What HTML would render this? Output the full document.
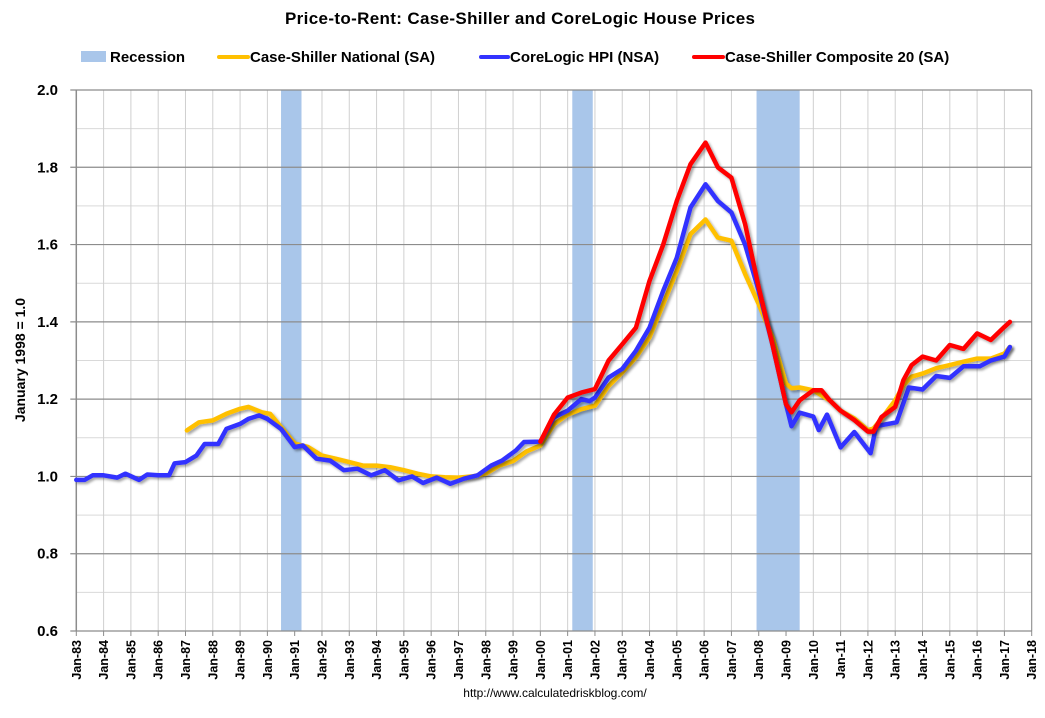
<!DOCTYPE html>
<html><head><meta charset="utf-8"><style>
body{margin:0;background:#fff;}
svg text{font-family:"Liberation Sans",Arial,sans-serif;}
</style></head><body>
<svg id="chart" width="1045" height="713" xmlns="http://www.w3.org/2000/svg">
<defs><filter id="sh" x="-5%" y="-5%" width="110%" height="110%"><feDropShadow dx="2" dy="2" stdDeviation="1.2" flood-color="#000" flood-opacity="0.35"/></filter></defs>
<rect width="1045" height="713" fill="#fff"/>
<text x="520" y="24" text-anchor="middle" font-size="17" font-weight="bold" textLength="470">Price-to-Rent: Case-Shiller and CoreLogic House Prices</text>
<g>
<rect x="81" y="51" width="25" height="11" fill="#a9c6ea"/>
<text x="110" y="62" font-size="15" font-weight="bold">Recession</text>
<line x1="219" y1="57" x2="248" y2="57" stroke="#ffc000" stroke-width="4" stroke-linecap="round"/>
<text x="250" y="62" font-size="15" font-weight="bold">Case-Shiller National (SA)</text>
<line x1="481" y1="57" x2="508" y2="57" stroke="#3333ff" stroke-width="4" stroke-linecap="round"/>
<text x="510" y="62" font-size="15" font-weight="bold">CoreLogic HPI (NSA)</text>
<line x1="694" y1="57" x2="723" y2="57" stroke="#ff0000" stroke-width="4" stroke-linecap="round"/>
<text x="725" y="62" font-size="15" font-weight="bold">Case-Shiller Composite 20 (SA)</text>
</g>
<text transform="translate(25,360) rotate(-90)" text-anchor="middle" font-size="14" font-weight="bold">January 1998 = 1.0</text>
<text x="555" y="697" text-anchor="middle" font-size="12">http://www.calculatedriskblog.com/</text>
<g id="plot"></g>
</svg>
<script>
const recessionStarts=[1990.5,2001.17,2007.92];
const recessionEnds=[1991.25,2001.92,2009.5];
const yTicks=[0.6,0.8,1.0,1.2,1.4,1.6,1.8,2.0];
const yTickLabels=["0.6","0.8","1.0","1.2","1.4","1.6","1.8","2.0"];
const xYears=[1983,1984,1985,1986,1987,1988,1989,1990,1991,1992,1993,1994,1995,1996,1997,1998,1999,2000,2001,2002,2003,2004,2005,2006,2007,2008,2009,2010,2011,2012,2013,2014,2015,2016,2017,2018];
const nationalDates=[1987.05,1987.5,1988,1988.5,1989,1989.3,1989.8,1990.1,1990.5,1991,1991.5,1992,1992.5,1993,1993.5,1994,1994.5,1995,1995.5,1996,1996.5,1997,1997.5,1998,1998.5,1999,1999.5,2000,2000.5,2001,2001.5,2002,2002.5,2003,2003.5,2004,2004.5,2005,2005.5,2006.05,2006.5,2007,2007.5,2008,2008.5,2009,2009.2,2009.5,2010,2010.3,2010.6,2011,2011.5,2012,2012.2,2012.5,2013,2013.3,2013.6,2014,2014.5,2015,2015.5,2016,2016.5,2017,2017.2];
const nationalValues=[1.119,1.14,1.145,1.162,1.175,1.18,1.166,1.162,1.128,1.085,1.076,1.054,1.046,1.037,1.028,1.028,1.024,1.016,1.007,1.0,0.998,0.997,1.0,1.007,1.028,1.04,1.065,1.08,1.135,1.16,1.174,1.183,1.234,1.269,1.308,1.36,1.446,1.532,1.627,1.665,1.618,1.61,1.524,1.446,1.36,1.24,1.228,1.23,1.223,1.21,1.197,1.17,1.15,1.12,1.124,1.15,1.197,1.236,1.258,1.266,1.28,1.288,1.297,1.305,1.305,1.318,1.335];
const coreDates=[1983,1983.3,1983.6,1984,1984.5,1984.8,1985.3,1985.6,1986,1986.4,1986.6,1987,1987.4,1987.7,1988.2,1988.5,1989,1989.3,1989.7,1990,1990.5,1991,1991.3,1991.8,1992.3,1992.8,1993.3,1993.8,1994.3,1994.8,1995.3,1995.7,1996.2,1996.7,1997.2,1997.7,1998.2,1998.6,1999.1,1999.4,2000,2000.5,2001,2001.5,2001.8,2002,2002.5,2003,2003.5,2004,2004.5,2005,2005.5,2006.05,2006.5,2007,2007.5,2008,2008.5,2009,2009.2,2009.5,2010,2010.2,2010.5,2011,2011.5,2012.1,2012.3,2013.05,2013.5,2014,2014.5,2015,2015.5,2016.1,2016.5,2017,2017.2];
const coreValues=[0.991,0.991,1.003,1.003,0.997,1.007,0.991,1.005,1.003,1.003,1.034,1.037,1.054,1.084,1.084,1.123,1.136,1.149,1.158,1.149,1.123,1.076,1.08,1.046,1.041,1.016,1.02,1.003,1.016,0.99,1.0,0.983,0.997,0.981,0.994,1.003,1.028,1.041,1.067,1.089,1.09,1.153,1.17,1.2,1.195,1.204,1.256,1.278,1.325,1.385,1.48,1.566,1.696,1.756,1.713,1.683,1.6,1.48,1.342,1.187,1.13,1.165,1.155,1.12,1.16,1.075,1.115,1.06,1.13,1.14,1.23,1.225,1.26,1.255,1.285,1.285,1.3,1.31,1.335];
const compDates=[2000,2000.5,2001,2001.5,2002,2002.5,2003,2003.5,2004,2004.5,2005,2005.5,2006.05,2006.5,2007,2007.5,2008,2008.5,2009,2009.2,2009.5,2010,2010.3,2010.6,2011,2011.5,2012,2012.2,2012.5,2013,2013.3,2013.6,2014,2014.5,2015,2015.5,2016,2016.5,2017,2017.2];
const compValues=[1.09,1.16,1.204,1.217,1.226,1.3,1.342,1.385,1.506,1.6,1.713,1.808,1.864,1.8,1.773,1.653,1.489,1.342,1.187,1.166,1.197,1.223,1.223,1.197,1.17,1.146,1.116,1.116,1.154,1.18,1.249,1.288,1.31,1.3,1.34,1.33,1.37,1.353,1.387,1.4];

const L=76.3,R=1031.7,T=90,B=631;
const x=yr=>L+(yr-1983)*(R-L)/35;
const y=v=>B-(v-0.6)*(B-T)/1.4;
const NS="http://www.w3.org/2000/svg";
const plot=document.getElementById('plot');
function mk(tag,attrs,parent){const e=document.createElementNS(NS,tag);for(const k in attrs)e.setAttribute(k,attrs[k]);(parent||plot).appendChild(e);return e;}
for(let v=0.7;v<2.0;v+=0.2){const g=mk('line',{x1:L,x2:R,y1:y(v),y2:y(v),stroke:'#d9d9d9','stroke-width':1});

}
xYears.forEach(yr=>{const g=mk('line',{x1:x(yr),x2:x(yr),y1:T,y2:B,stroke:'#d0d0d0','stroke-width':1});

});
recessionStarts.forEach((s,i)=>{const r=mk('rect',{x:x(s),y:T,width:x(recessionEnds[i])-x(s),height:B-T,fill:'#a9c6ea'});

});
yTicks.forEach((v,i)=>{const g=mk('line',{x1:L-6,x2:R,y1:y(v),y2:y(v),stroke:'#8c8c8c','stroke-width':1.2});


const t=mk('text',{x:58,y:y(v)+5,'text-anchor':'end','font-size':15,'font-weight':'bold'});t.textContent=yTickLabels[i];

});
const ax=mk('line',{x1:L,x2:L,y1:T,y2:B,stroke:'#8c8c8c','stroke-width':1.5});


const bx=mk('line',{x1:R,x2:R,y1:T,y2:B,stroke:'#8c8c8c','stroke-width':1});


xYears.forEach(yr=>{const tk=mk('line',{x1:x(yr),x2:x(yr),y1:B,y2:B+5,stroke:'#8c8c8c'});


const t=mk('text',{transform:`translate(${x(yr)+4.5},${B+9}) rotate(-90)`,'text-anchor':'end','font-size':12.5,'font-weight':'bold'});
t.textContent='Jan-'+String(yr%100).padStart(2,'0');

});
function series(d,v,color,name){const p=mk('polyline',{points:d.map((dd,i)=>x(dd).toFixed(1)+','+y(v[i]).toFixed(1)).join(' '),fill:'none',stroke:color,'stroke-width':4.5,'stroke-linejoin':'round','stroke-linecap':'round',filter:'url(#sh)'});

}
series(nationalDates,nationalValues,'#ffc000','cs-national-line');
series(coreDates,coreValues,'#3333ff','corelogic-line');
series(compDates,compValues,'#ff0000','cs-composite20-line');
</script>
</body></html>
